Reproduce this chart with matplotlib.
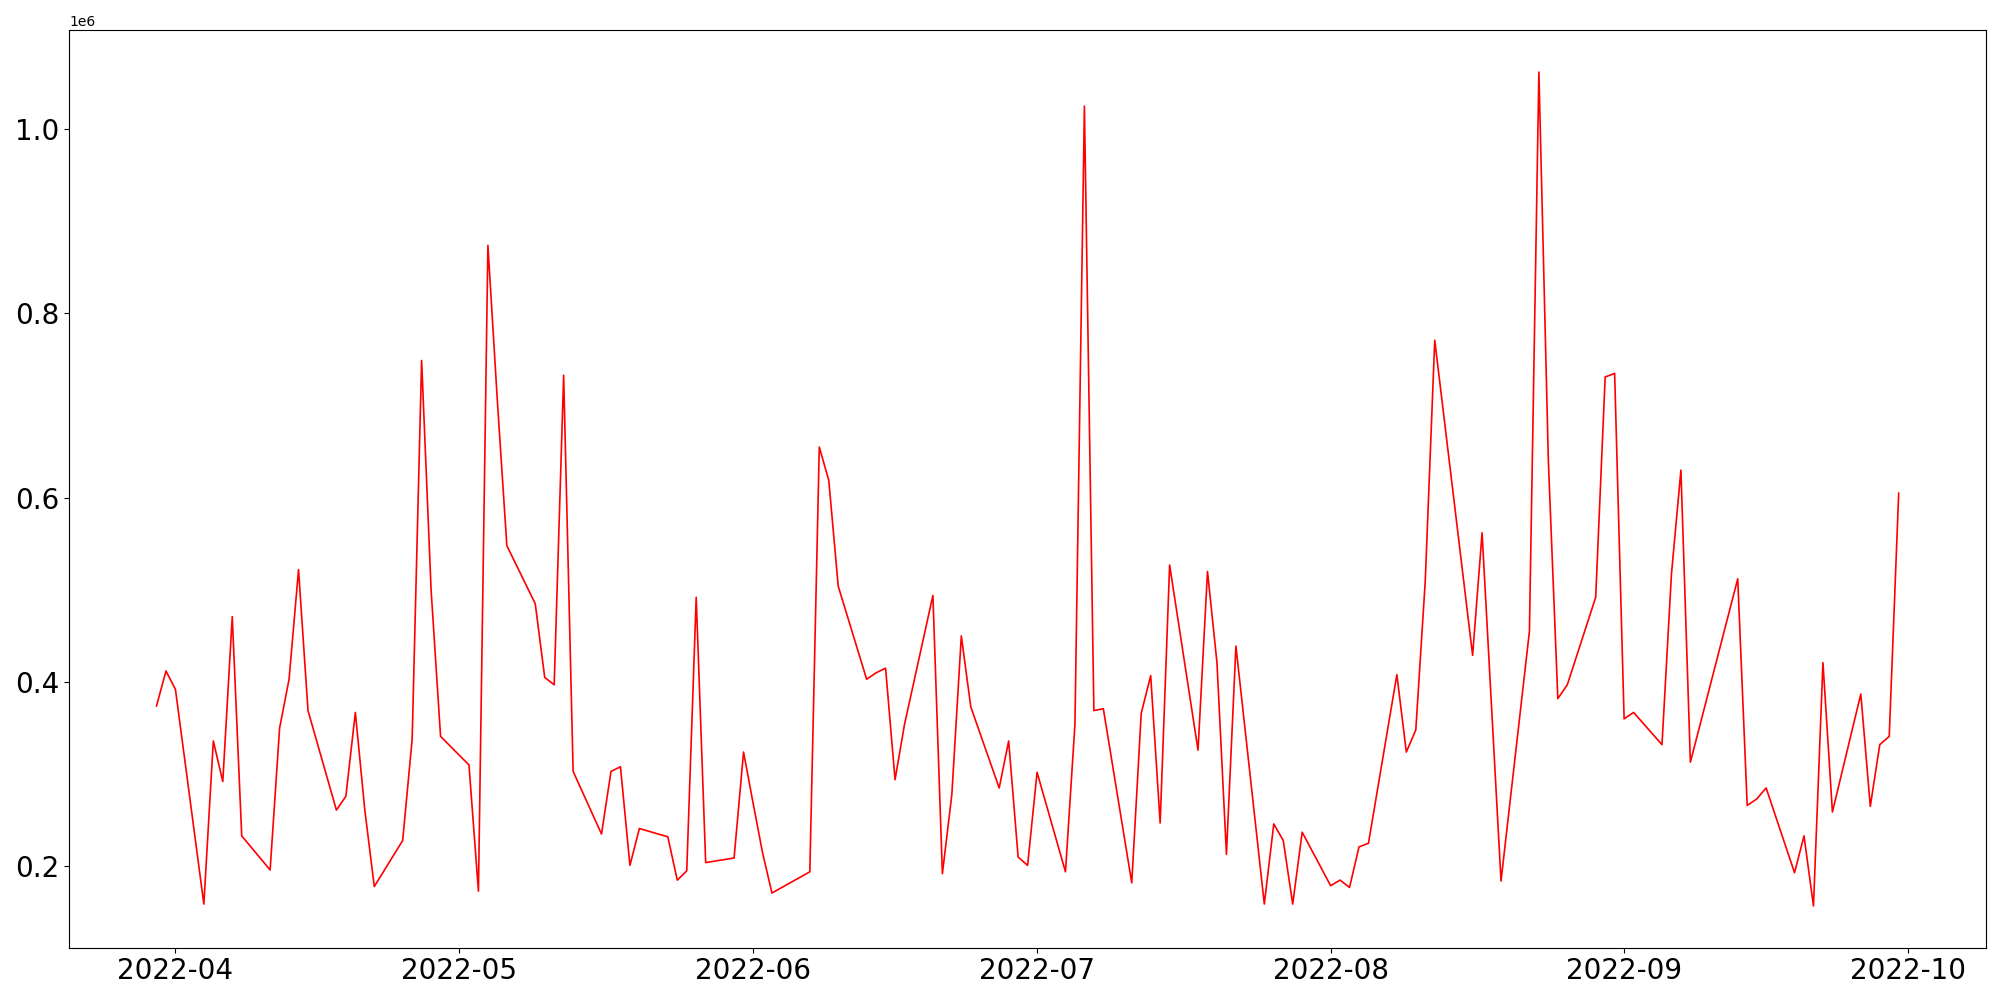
import matplotlib
matplotlib.use("Agg")
import matplotlib.pyplot as plt
import pandas as pd

dates = [
    "2022-03-30", "2022-03-31", "2022-04-01", "2022-04-04", "2022-04-05", "2022-04-06",
    "2022-04-07", "2022-04-08", "2022-04-11", "2022-04-12", "2022-04-13", "2022-04-14",
    "2022-04-15", "2022-04-18", "2022-04-19", "2022-04-20", "2022-04-21", "2022-04-22",
    "2022-04-25", "2022-04-26", "2022-04-27", "2022-04-28", "2022-04-29", "2022-05-02",
    "2022-05-03", "2022-05-04", "2022-05-05", "2022-05-06", "2022-05-09", "2022-05-10",
    "2022-05-11", "2022-05-12", "2022-05-13", "2022-05-16", "2022-05-17", "2022-05-18",
    "2022-05-19", "2022-05-20", "2022-05-23", "2022-05-24", "2022-05-25", "2022-05-26",
    "2022-05-27", "2022-05-30", "2022-05-31", "2022-06-01", "2022-06-02", "2022-06-03",
    "2022-06-07", "2022-06-08", "2022-06-09", "2022-06-10", "2022-06-13", "2022-06-14",
    "2022-06-15", "2022-06-16", "2022-06-17", "2022-06-20", "2022-06-21", "2022-06-22",
    "2022-06-23", "2022-06-24", "2022-06-27", "2022-06-28", "2022-06-29", "2022-06-30",
    "2022-07-01", "2022-07-04", "2022-07-05", "2022-07-06", "2022-07-07", "2022-07-08",
    "2022-07-11", "2022-07-12", "2022-07-13", "2022-07-14", "2022-07-15", "2022-07-18",
    "2022-07-19", "2022-07-20", "2022-07-21", "2022-07-22", "2022-07-25", "2022-07-26",
    "2022-07-27", "2022-07-28", "2022-07-29", "2022-08-01", "2022-08-02", "2022-08-03",
    "2022-08-04", "2022-08-05", "2022-08-08", "2022-08-09", "2022-08-10", "2022-08-11",
    "2022-08-12", "2022-08-16", "2022-08-17", "2022-08-19", "2022-08-22", "2022-08-23",
    "2022-08-24", "2022-08-25", "2022-08-26", "2022-08-29", "2022-08-30", "2022-08-31",
    "2022-09-01", "2022-09-02", "2022-09-05", "2022-09-06", "2022-09-07", "2022-09-08",
    "2022-09-13", "2022-09-14", "2022-09-15", "2022-09-16", "2022-09-19", "2022-09-20",
    "2022-09-21", "2022-09-22", "2022-09-23", "2022-09-26", "2022-09-27", "2022-09-28",
    "2022-09-29", "2022-09-30",
]

values = [
    374000, 412000, 392000, 159000, 336000, 292000,
    471000, 233000, 196000, 350000, 403000, 522000,
    369000, 261000, 276000, 367000, 261000, 178000,
    228000, 338000, 749000, 500000, 341000, 310000,
    173000, 874000, 705000, 548000, 485000, 405000,
    397000, 733000, 303000, 235000, 303000, 308000,
    201000, 241000, 232000, 185000, 195000, 492000,
    204000, 209000, 324000, 269000, 215000, 171000,
    194000, 655000, 619000, 504000, 403000, 410000,
    415000, 294000, 354000, 494000, 192000, 278000,
    450000, 373000, 285000, 336000, 210000, 201000,
    302000, 194000, 354000, 1025000, 369000, 371000,
    182000, 366000, 407000, 247000, 527000, 326000,
    520000, 421000, 213000, 439000, 159000, 246000,
    228000, 159000, 237000, 179000, 185000, 177000,
    221000, 225000, 408000, 324000, 348000, 510000,
    771000, 429000, 562000, 184000, 455000, 1062000,
    640000, 382000, 397000, 492000, 731000, 735000,
    360000, 367000, 332000, 517000, 630000, 313000,
    512000, 266000, 273000, 285000, 193000, 233000,
    157000, 421000, 259000, 387000, 265000, 332000,
    341000, 605000,
]

x = pd.to_datetime(dates)

fig = plt.figure(figsize=(20, 10), dpi=100)
ax = fig.add_axes([0.0347, 0.0524, 0.9582, 0.9172])
ax.plot(x, values, color="red", linewidth=1.2)
ax.tick_params(axis="both", labelsize=20)
ax.ticklabel_format(axis="y", style="sci", scilimits=(0, 0))
ax.yaxis.get_offset_text().set_fontsize(10)
fig.savefig("out.png", dpi=100)
